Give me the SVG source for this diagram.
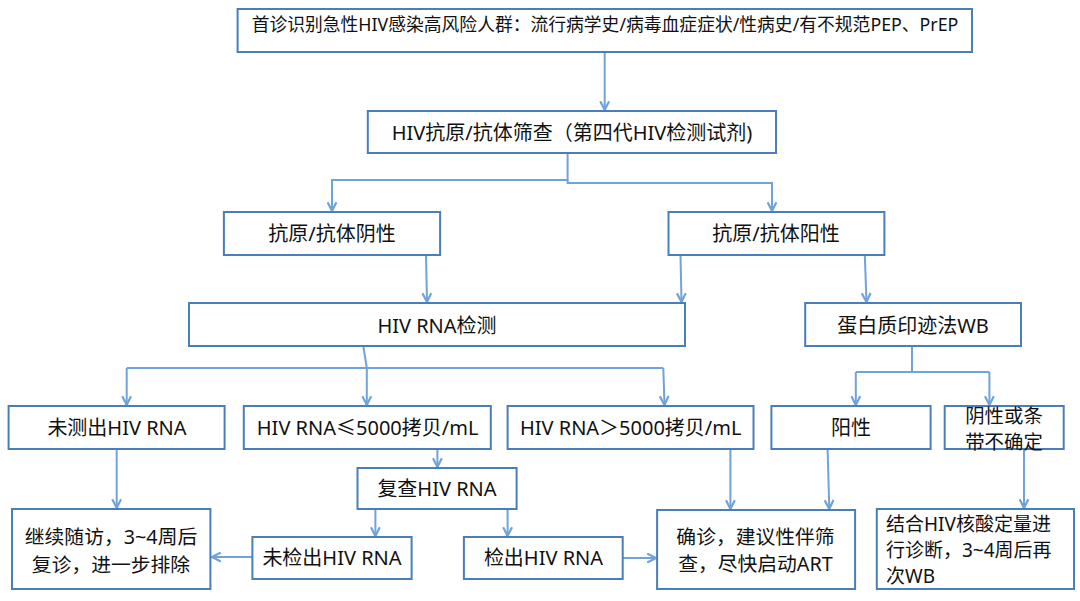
<svg xmlns="http://www.w3.org/2000/svg" width="1080" height="601" viewBox="0 0 1080 601">
<style>
.box{fill:#ffffff;stroke:#4A7EBB;stroke-width:2}
.t{font-family:"Noto Sans","Noto Sans CJK SC",sans-serif;font-size:20px;fill:#111111;text-anchor:middle;dominant-baseline:central}
.tl{text-anchor:start}
.c{fill:none;stroke:#6FA3DA;stroke-width:2}
.a{marker-end:url(#arr)}
</style>
<defs>
<marker id="arr" viewBox="0 0 10 10" refX="9" refY="5" markerWidth="11" markerHeight="11" markerUnits="userSpaceOnUse" orient="auto">
<path d="M1,1 L9,5 L1,9" fill="none" stroke="#6FA3DA" stroke-width="2"/>
</marker>
</defs>
<rect width="1080" height="601" fill="#ffffff"/>
<g id="connectors">
<path class="c a" d="M604.7,52 V110"/>
<path class="c a" d="M567.6,153 V180 H332 V211"/>
<path class="c a" d="M567.6,180 V183 H772 V211"/>
<path class="c a" d="M426,255 L427,302"/>
<path class="c a" d="M680.5,255 L681.5,302"/>
<path class="c a" d="M864.8,255 L866.5,302"/>
<path class="c" d="M363.3,346 L366.8,368 M126.7,368 H663.3"/>
<path class="c a" d="M126.7,368 V405"/>
<path class="c a" d="M366.8,368 V405"/>
<path class="c a" d="M663.3,368 L664.5,405"/>
<path class="c" d="M912,346 V372 M855.8,372 H989.4"/>
<path class="c a" d="M855.8,372 V405"/>
<path class="c a" d="M989.4,372 V405"/>
<path class="c a" d="M116.7,449 V508"/>
<path class="c a" d="M437.4,449 V467"/>
<path class="c a" d="M730.4,449 V509"/>
<path class="c a" d="M827.6,449 L829.3,509"/>
<path class="c a" d="M1024,449 V508"/>
<path class="c a" d="M375.4,509 V536"/>
<path class="c a" d="M507.6,509 V536"/>
<path class="c a" d="M252.4,557 H212"/>
<path class="c a" d="M622.7,558 H656"/>
</g>
<g id="n1"><rect class="box" x="237.6" y="9" width="734.4" height="43"/><text class="t" x="605" y="23.5" style="font-size:17.8px">首诊识别急性HIV感染高风险人群：流行病学史/病毒血症症状/性病史/有不规范PEP、PrEP</text></g>
<g id="n2"><rect class="box" x="367.8" y="111" width="408.2" height="42"/><text class="t" x="572" y="132.5">HIV抗原/抗体筛查（第四代HIV检测试剂)</text></g>
<g id="n3"><rect class="box" x="223.9" y="212" width="216.2" height="43"/><text class="t" x="332" y="233.3">抗原/抗体阴性</text></g>
<g id="n4"><rect class="box" x="668.5" y="212" width="215.9" height="43"/><text class="t" x="776" y="233.3">抗原/抗体阳性</text></g>
<g id="n5"><rect class="box" x="189" y="303" width="496" height="43"/><text class="t" x="437" y="325">HIV RNA检测</text></g>
<g id="n6"><rect class="box" x="805.2" y="303" width="215.8" height="43"/><text class="t" x="913" y="325">蛋白质印迹法WB</text></g>
<g id="n7"><rect class="box" x="8.6" y="406" width="216" height="43"/><text class="t" x="117" y="427.3">未测出HIV RNA</text></g>
<g id="n8"><rect class="box" x="243.8" y="406" width="247" height="43"/><text class="t" x="367.6" y="427.3">HIV RNA≤5000拷贝/mL</text></g>
<g id="n9"><rect class="box" x="507.6" y="406" width="245.9" height="43"/><text class="t" x="630.7" y="427.3">HIV RNA＞5000拷贝/mL</text></g>
<g id="n10"><rect class="box" x="771.4" y="406" width="159.2" height="43"/><text class="t" x="851" y="427.3">阳性</text></g>
<g id="n11"><rect class="box" x="944.7" y="406" width="119" height="43"/><text class="t" x="1004" y="414.5" style="font-size:19.4px"><tspan x="1004" y="414.5">阴性或条</tspan><tspan x="1004" y="441.1">带不确定</tspan></text></g>
<g id="n12"><rect class="box" x="357.5" y="468" width="159.1" height="41"/><text class="t" x="437" y="488.3">复查HIV RNA</text></g>
<g id="n13"><rect class="box" x="12" y="509" width="198.4" height="80"/><text class="t" x="111" y="536.3" style="font-size:19.8px"><tspan x="111" y="536.3">继续随访，3~4周后</tspan><tspan x="111" y="563.5">复诊，进一步排除</tspan></text></g>
<g id="n14"><rect class="box" x="252.4" y="537" width="159.2" height="42"/><text class="t" x="332" y="557">未检出HIV RNA</text></g>
<g id="n15"><rect class="box" x="463.9" y="537" width="158.8" height="42"/><text class="t" x="543.5" y="557">检出HIV RNA</text></g>
<g id="n16"><rect class="box" x="657.1" y="510" width="198" height="79"/><text class="t" x="755.5" y="536" style="font-size:19.8px"><tspan x="755.5" y="536">确诊，建议性伴筛</tspan><tspan x="755.5" y="563.2">查，尽快启动ART</tspan></text></g>
<g id="n17"><rect class="box" x="876.8" y="509" width="197.2" height="80"/><text class="t tl" x="886" y="524" style="font-size:19px"><tspan x="886" y="524">结合HIV核酸定量进</tspan><tspan x="886" y="550">行诊断，3~4周后再</tspan><tspan x="886" y="576">次WB</tspan></text></g>
</svg>
